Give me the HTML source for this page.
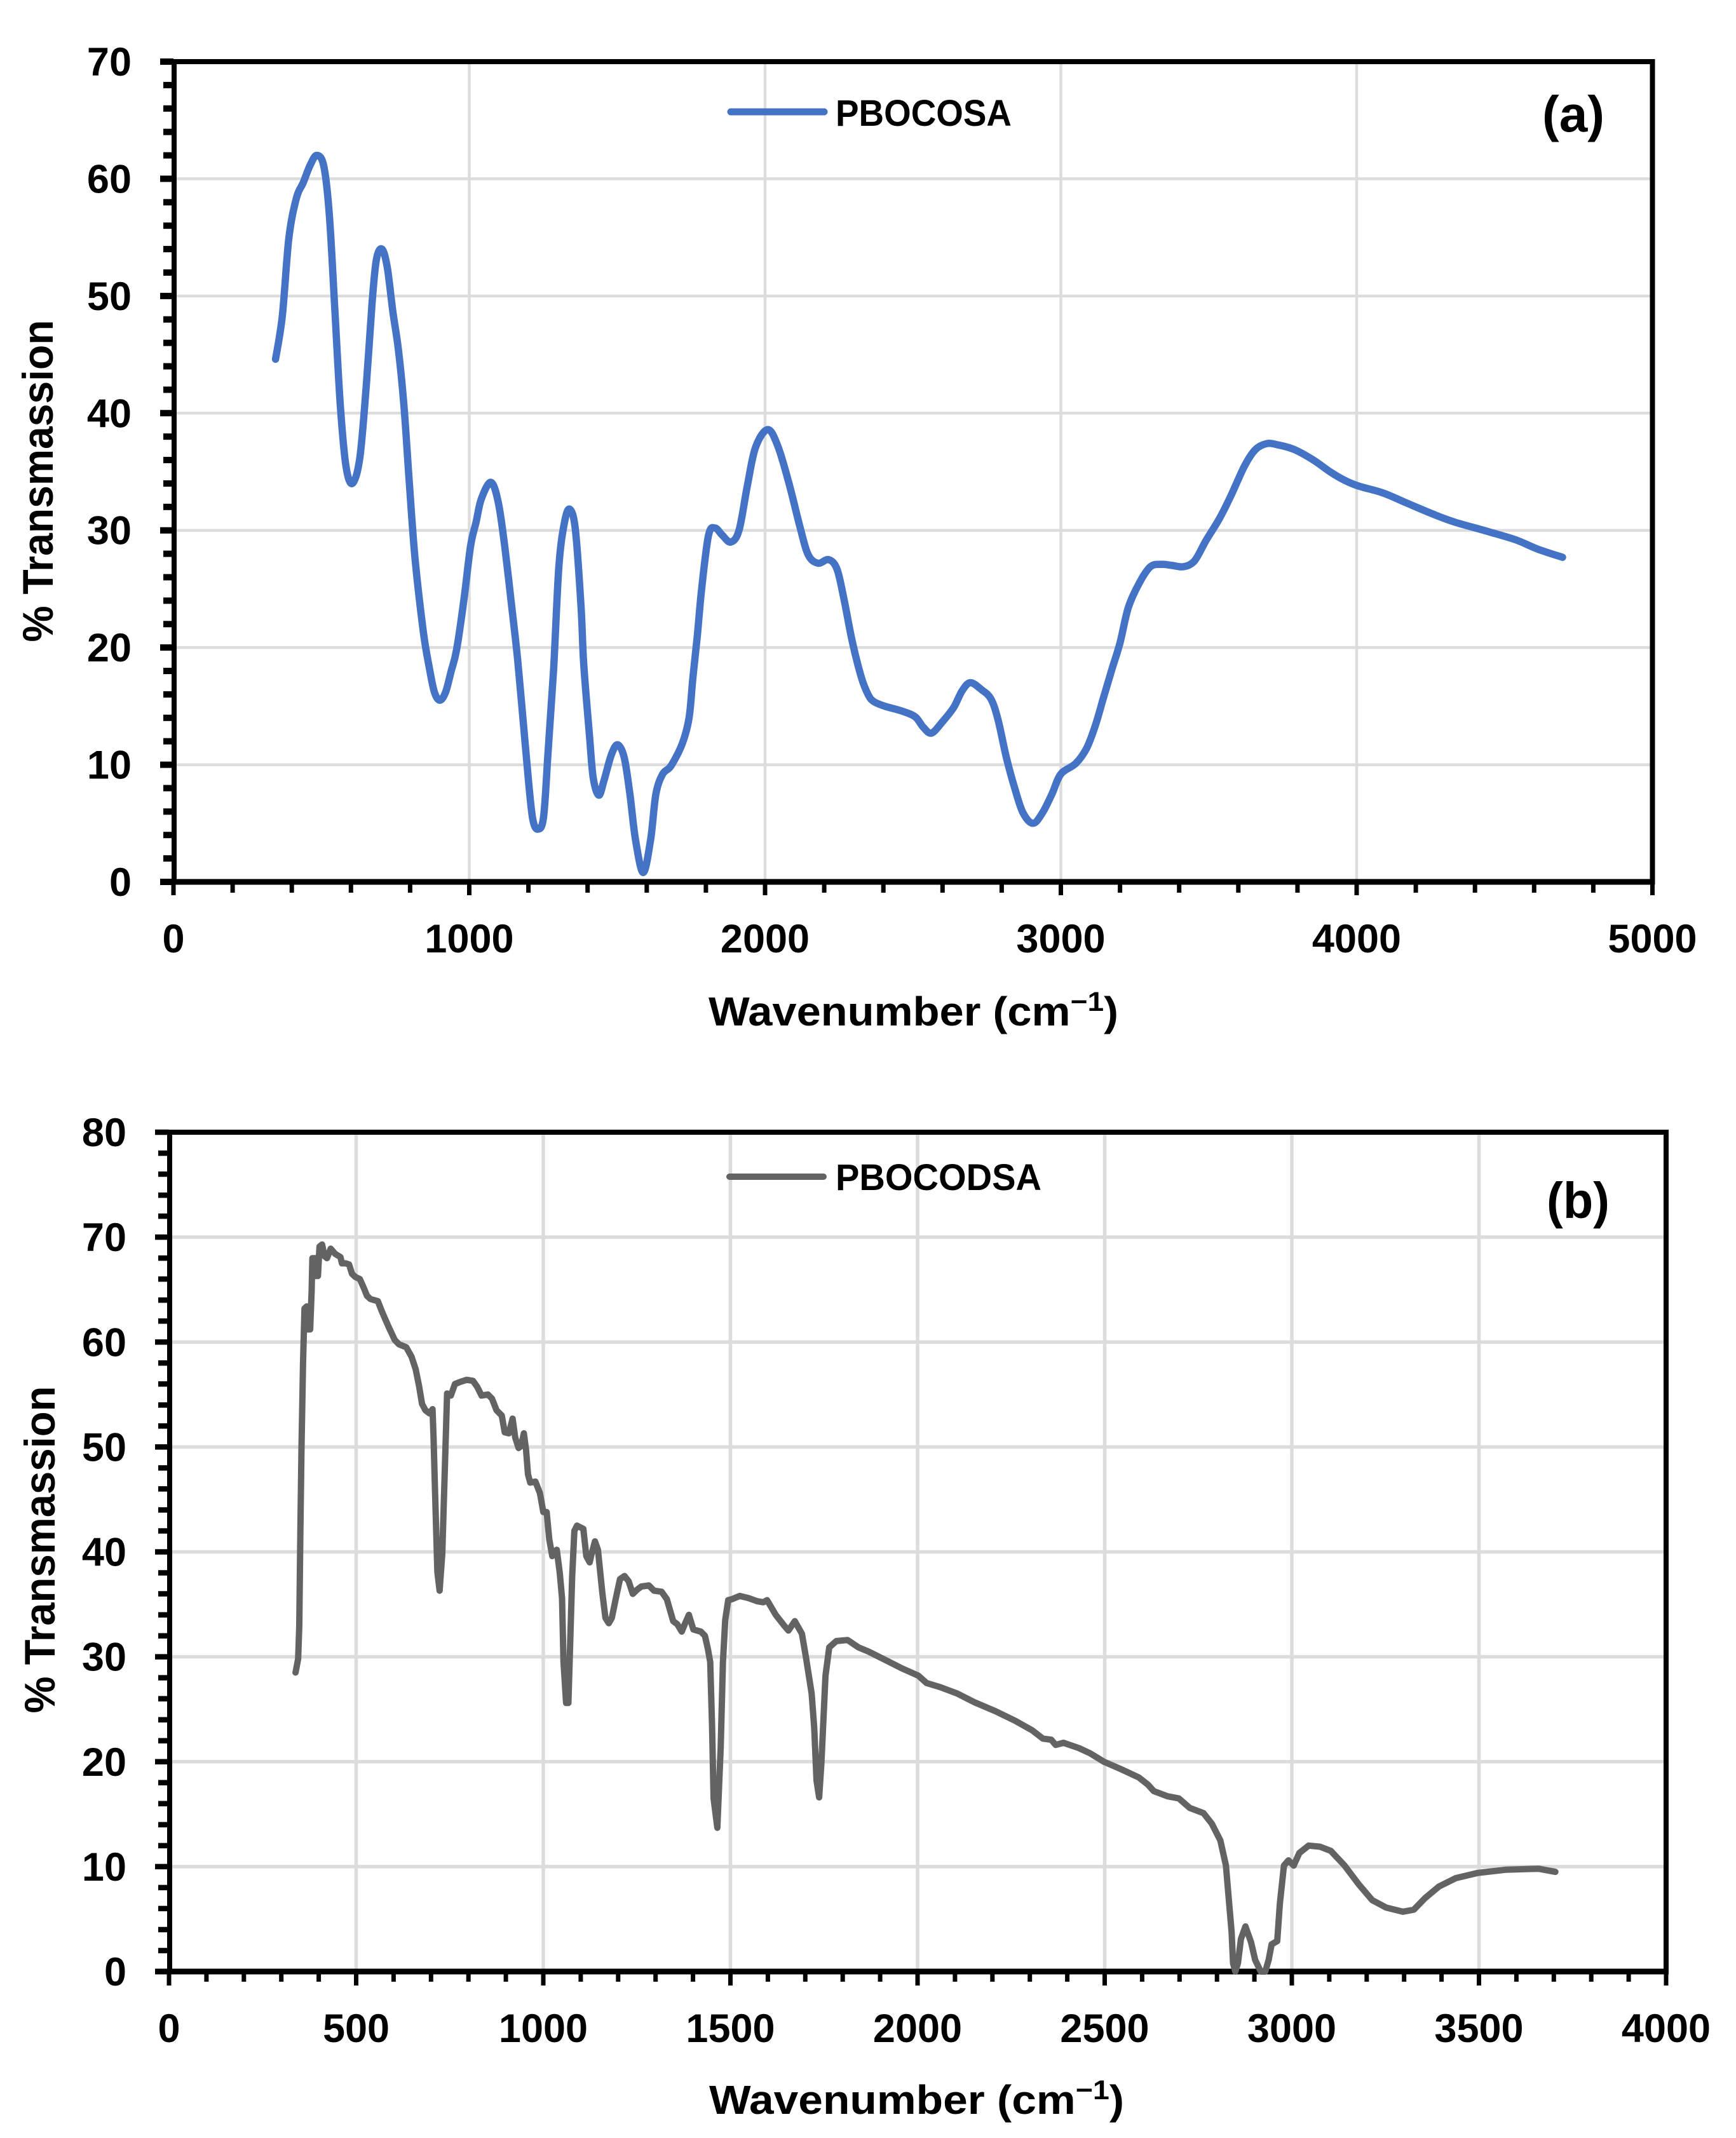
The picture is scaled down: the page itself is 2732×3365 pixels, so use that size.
<!DOCTYPE html>
<html lang="en">
<head>
<meta charset="utf-8">
<title>FTIR spectra of PBOCOSA and PBOCODSA</title>
<style>
  html, body { margin: 0; padding: 0; background: #fff; }
  svg { display: block; }
  text { font-family: "Liberation Sans", sans-serif; font-weight: bold; fill: #000; }
</style>
</head>
<body>
<svg id="figure" xmlns="http://www.w3.org/2000/svg" width="2732" height="3365" viewBox="0 0 2732 3365">
  <rect width="2732" height="3365" fill="#ffffff"/>

  <g id="panel-a">
    <text transform="translate(83 757) rotate(-90)" text-anchor="middle" font-size="68" textLength="507" lengthAdjust="spacingAndGlyphs">% Transmassion</text>
    <text x="1115" y="1614" font-size="64" textLength="645" lengthAdjust="spacingAndGlyphs">Wavenumber (cm<tspan dy="-23" font-size="43">−1</tspan><tspan dy="23">)</tspan></text>
    <line x1="1150" y1="176" x2="1297" y2="176" stroke="#4472C4" stroke-width="11" stroke-linecap="round"/>
    <text x="1315" y="198" font-size="58" textLength="277" lengthAdjust="spacingAndGlyphs">PBOCOSA</text>
    <text x="2427" y="207" font-size="80" textLength="98" lengthAdjust="spacingAndGlyphs">(a)</text>
  </g>

  <g id="panel-b">
    <text transform="translate(86 2439) rotate(-90)" text-anchor="middle" font-size="68" textLength="515" lengthAdjust="spacingAndGlyphs">% Transmassion</text>
    <text x="1116" y="3327" font-size="64" textLength="653" lengthAdjust="spacingAndGlyphs">Wavenumber (cm<tspan dy="-23" font-size="43">−1</tspan><tspan dy="23">)</tspan></text>
    <line x1="1148" y1="1852" x2="1296" y2="1852" stroke="#636363" stroke-width="10" stroke-linecap="round"/>
    <text x="1315" y="1873" font-size="58" textLength="324" lengthAdjust="spacingAndGlyphs">PBOCODSA</text>
    <text x="2434" y="1917" font-size="80" textLength="99" lengthAdjust="spacingAndGlyphs">(b)</text>
  </g>
</svg>

<script>
// Panel (a) data: PBOCOSA
const aWavenumber = [345,368,390,415,439,461,484,508,527,546,564,583,605,630,652,671,686,705,723,742,760,779,798,817,845,864,882,901,920,938,957,982,1004,1023,1041,1073,1098,1120,1144,1163,1182,1201,1215,1232,1251,1266,1285,1303,1322,1340,1359,1378,1387,1406,1419,1438,1456,1481,1502,1524,1543,1562,1588,1613,1631,1654,1682,1720,1743,1756,1771,1786,1809,1831,1855,1884,1912,1940,1968,2009,2043,2080,2118,2146,2179,2215,2243,2267,2295,2325,2348,2367,2404,2460,2507,2535,2563,2601,2638,2666,2694,2732,2764,2788,2816,2844,2872,2906,2938,2970,3000,3050,3087,3116,3144,3172,3200,3228,3265,3303,3340,3377,3415,3452,3490,3536,3574,3621,3658,3696,3733,3789,3854,3910,3957,4004,4088,4163,4257,4332,4444,4537,4612,4696];
const aTransmission = [44.6,48.3,54.9,58.3,59.7,61.1,62.0,61.1,56.9,48.6,40.7,35.5,34.0,36.2,42.4,49.3,53.1,54.0,52.4,48.6,45.5,40.7,33.8,27.5,21.3,18.4,16.2,15.5,16.2,17.9,19.8,24.1,28.6,30.7,32.7,34.1,32.4,28.6,23.4,19.1,13.8,8.4,5.3,4.5,5.5,10.9,18.1,26.9,30.7,31.8,30,23.4,18.6,12.6,8.9,7.4,8.7,10.9,11.7,10.6,7.5,3.6,0.8,3.6,7.5,9.2,9.9,11.8,14,17.4,21,25.1,29.6,30.2,29.6,29,30,33.8,37.1,38.6,37.2,34.1,30.3,27.9,27.2,27.5,26.7,24.1,20.5,17.5,16,15.4,15.0,14.6,14.1,13.2,12.7,13.7,14.9,16.3,17.0,16.4,15.6,13.8,10.6,8.0,5.9,5.0,5.9,7.5,9.2,10.1,11.4,13.3,15.7,18.1,20.4,23.4,25.5,26.9,27.1,27,26.9,27.4,29.1,31,32.9,35.5,36.9,37.4,37.3,36.9,36,35,34.3,33.8,33.2,32.4,31.4,30.7,29.9,29.2,28.4,27.7];
const aXTickLabels = [0,1000,2000,3000,4000,5000];
const aYTickLabels = [0,10,20,30,40,50,60,70];

// Panel (b) data: PBOCODSA
const bWavenumber = [338,345,348,351,354,358,362,368,371,377,381,383,391,392,398,402,409,415,422,432,444,458,462,472,481,489,498,510,521,529,538,558,569,586,603,614,634,648,659,668,676,685,696,704,707,710,717,723,730,736,743,753,764,778,795,812,824,835,852,863,875,889,897,908,918,925,934,941,948,954,959,965,979,991,1000,1009,1016,1024,1036,1044,1050,1054,1061,1067,1072,1077,1083,1090,1107,1115,1124,1129,1138,1146,1158,1166,1175,1183,1197,1205,1217,1228,1239,1251,1262,1282,1296,1316,1330,1347,1358,1370,1378,1389,1401,1421,1432,1440,1446,1451,1455,1465,1474,1480,1486,1494,1505,1525,1548,1571,1588,1598,1621,1643,1655,1672,1691,1702,1717,1724,1730,1737,1743,1754,1764,1783,1813,1842,1869,1914,1958,2002,2024,2061,2106,2150,2209,2261,2306,2335,2357,2369,2390,2431,2461,2498,2543,2591,2616,2631,2668,2698,2727,2764,2786,2809,2824,2831,2839,2843,2849,2856,2864,2876,2891,2902,2917,2929,2938,2946,2961,2968,2979,2991,3005,3020,3045,3075,3104,3141,3179,3215,3252,3297,3326,3356,3393,3438,3497,3571,3659,3704];
const bTransmission = [28.5,29.8,33,42,50,58,63.2,63.4,61.2,61.2,64.8,68,68,66.3,66.3,69.1,69.3,68.2,68,68.9,68.4,68.1,67.5,67.5,67.4,66.5,66.2,66.0,65.1,64.4,64.1,63.9,62.9,61.5,60.2,59.8,59.5,58.6,57.4,55.8,54.1,53.5,53.2,53.6,50.7,46.7,38.1,36.3,39.8,46.8,55.1,54.9,56.0,56.2,56.4,56.3,55.7,54.9,55,54.6,53.5,53,51.4,51.3,52.7,50.9,49.9,50.1,51.3,49.7,47.4,46.6,46.7,45.6,43.8,43.8,41.2,39.6,40.2,38.0,35.6,29.5,25.6,25.6,31.5,37.6,42,42.5,42.2,39.6,39,39.8,41,40.2,36,33.7,33.2,33.7,36.1,37.4,37.7,37.2,36,36.4,36.7,36.8,36.3,36.2,35.5,33.4,33.1,32.4,33.1,34,32.6,32.4,32,30.7,29.5,23.4,16.5,13.7,21.4,29.5,33.5,35.4,35.5,35.8,35.6,35.3,35.2,35.4,34,33,32.5,33.4,32.2,29.9,26.5,23.2,18.2,16.6,19.8,28.2,30.9,31.5,31.6,30.9,30.5,29.7,28.9,28.2,27.5,27.1,26.5,25.7,24.8,23.9,23,22.2,22.1,21.6,21.8,21.3,20.8,20,19.3,18.5,17.8,17.2,16.7,16.5,15.6,15.1,14.1,12.5,10.1,7.1,3.8,0.8,0,0.8,3.1,4.3,2.8,1.1,0,0,1.1,2.6,2.9,6.5,10.1,10.6,10.1,11.3,12,11.9,11.5,10.1,8.3,6.8,6.1,5.7,5.9,7,8.1,8.9,9.4,9.7,9.8,9.5];
const bXTickLabels = [0,500,1000,1500,2000,2500,3000,3500,4000];
const bYTickLabels = [0,10,20,30,40,50,60,70,80];

const SVG_NS = 'http://www.w3.org/2000/svg';

function make(parent, tag, attrs) {
  const el = document.createElementNS(SVG_NS, tag);
  for (const k in attrs) { el.setAttribute(k, attrs[k]); }
  parent.appendChild(el);
  return el;
}

function drawPanel(host, cfg, xLabels, yLabels, xs, ys) {
  const xScale = v => cfg.x0 + (v - cfg.xMin) * (cfg.x1 - cfg.x0) / (cfg.xMax - cfg.xMin);
  const yScale = v => cfg.y0 + (v - cfg.yMin) * (cfg.y1 - cfg.y0) / (cfg.yMax - cfg.yMin);
  const layer = document.createElementNS(SVG_NS, 'g');
  host.insertBefore(layer, host.firstChild);
  
  

  // gridlines
  yLabels.slice(1, -1).forEach(v => {
    const g = make(layer, 'line', { x1: cfg.x0, x2: cfg.x1, y1: yScale(v), y2: yScale(v), stroke: '#dcdcdc', 'stroke-width': cfg.gridW });
    
    
  });
  xLabels.slice(1, -1).forEach(v => {
    const g = make(layer, 'line', { x1: xScale(v), x2: xScale(v), y1: cfg.y1, y2: cfg.y0, stroke: '#dcdcdc', 'stroke-width': cfg.gridW });
    
    
  });

  // y ticks: major and minor
  for (let v = cfg.yMin; v <= cfg.yMax + 1e-6; v += cfg.yMinor) {
    const isMajor = Math.abs(v % cfg.yMajor) < 1e-6;
    const t = make(layer, 'line', { x1: isMajor ? cfg.tickLeftMajor : cfg.tickLeftMinor, x2: cfg.x0, y1: yScale(v), y2: yScale(v), stroke: '#000', 'stroke-width': cfg.yTickW });
    
    
  }
  // x ticks: major and minor
  for (let v = cfg.xMin; v <= cfg.xMax + 1e-6; v += cfg.xMinor) {
    const isMajor = Math.abs(v % cfg.xMajor) < 1e-6;
    const t = make(layer, 'line', { x1: xScale(v), x2: xScale(v), y1: cfg.y0, y2: isMajor ? cfg.tickBottomMajor : cfg.tickBottomMinor, stroke: '#000', 'stroke-width': 7 });
    
    
  }

  // axis frame
  const topAxis = make(layer, 'line', { x1: cfg.tickLeftMajor, x2: cfg.x1 + 4, y1: cfg.y1, y2: cfg.y1, stroke: '#000', 'stroke-width': 8 });
  
  
  const bottomAxis = make(layer, 'line', { x1: cfg.tickLeftMajor, x2: cfg.x1 + 4, y1: cfg.y0, y2: cfg.y0, stroke: '#000', 'stroke-width': 9 });
  
  
  const leftAxis = make(layer, 'line', { x1: cfg.x0 + 1, x2: cfg.x0 + 1, y1: cfg.y1 - 4, y2: cfg.y0, stroke: '#000', 'stroke-width': 8 });
  
  
  const rightAxis = make(layer, 'line', { x1: cfg.x1, x2: cfg.x1, y1: cfg.y1 - 4, y2: cfg.y0, stroke: '#000', 'stroke-width': 8 });
  
  

  // tick labels
  yLabels.forEach(v => {
    const t = make(layer, 'text', { x: cfg.yLabelRight, y: yScale(v) + 22, 'text-anchor': 'end', 'font-size': 63 });
    t.textContent = String(v);
    
    
  });
  xLabels.forEach(v => {
    const t = make(layer, 'text', { x: xScale(v), y: cfg.xLabelBase, 'text-anchor': 'middle', 'font-size': 63 });
    t.textContent = String(v);
    
    
  });

  // series
  const pts = xs.map((v, i) => [xScale(v), yScale(ys[i])]);
  let d = 'M' + pts[0][0].toFixed(1) + ' ' + pts[0][1].toFixed(1);
  if (cfg.smooth) {
    for (let i = 0; i < pts.length - 1; i++) {
      const p0 = pts[Math.max(0, i - 1)], p1 = pts[i], p2 = pts[i + 1], p3 = pts[Math.min(pts.length - 1, i + 2)];
      const c1x = p1[0] + (p2[0] - p0[0]) / 6, c1y = p1[1] + (p2[1] - p0[1]) / 6;
      const c2x = p2[0] - (p3[0] - p1[0]) / 6, c2y = p2[1] - (p3[1] - p1[1]) / 6;
      d += 'C' + c1x.toFixed(1) + ' ' + c1y.toFixed(1) + ' ' + c2x.toFixed(1) + ' ' + c2y.toFixed(1) + ' ' + p2[0].toFixed(1) + ' ' + p2[1].toFixed(1);
    }
  } else {
    for (let i = 1; i < pts.length; i++) {
      d += 'L' + pts[i][0].toFixed(1) + ' ' + pts[i][1].toFixed(1);
    }
  }
  const line = make(layer, 'path', { d: d, fill: 'none', stroke: cfg.color, 'stroke-width': cfg.lineW, 'stroke-linejoin': 'round', 'stroke-linecap': 'round' });
  
  
}

drawPanel(document.getElementById('panel-a'), {
  id: 'panel-a', x0: 273, x1: 2600.5, y0: 1388, y1: 97,
  xMin: 0, xMax: 5000, xMajor: 1000, xMinor: 200,
  yMin: 0, yMax: 70, yMajor: 10, yMinor: 2,
  tickLeftMajor: 252, tickLeftMinor: 257, tickBottomMajor: 1409, tickBottomMinor: 1405,
  yTickW: 10, gridW: 4.5, yLabelRight: 207, xLabelBase: 1499,
  color: '#4472C4', lineW: 11.5, smooth: true
}, aXTickLabels, aYTickLabels, aWavenumber, aTransmission);

drawPanel(document.getElementById('panel-b'), {
  id: 'panel-b', x0: 266, x1: 2622, y0: 3103, y1: 1782,
  xMin: 0, xMax: 4000, xMajor: 500, xMinor: 100,
  yMin: 0, yMax: 80, yMajor: 10, yMinor: 2,
  tickLeftMajor: 244, tickLeftMinor: 249, tickBottomMajor: 3125, tickBottomMinor: 3119,
  yTickW: 8.5, gridW: 5.5, yLabelRight: 199, xLabelBase: 3214,
  color: '#636363', lineW: 10, smooth: false
}, bXTickLabels, bYTickLabels, bWavenumber, bTransmission);
</script>
</body>
</html>
